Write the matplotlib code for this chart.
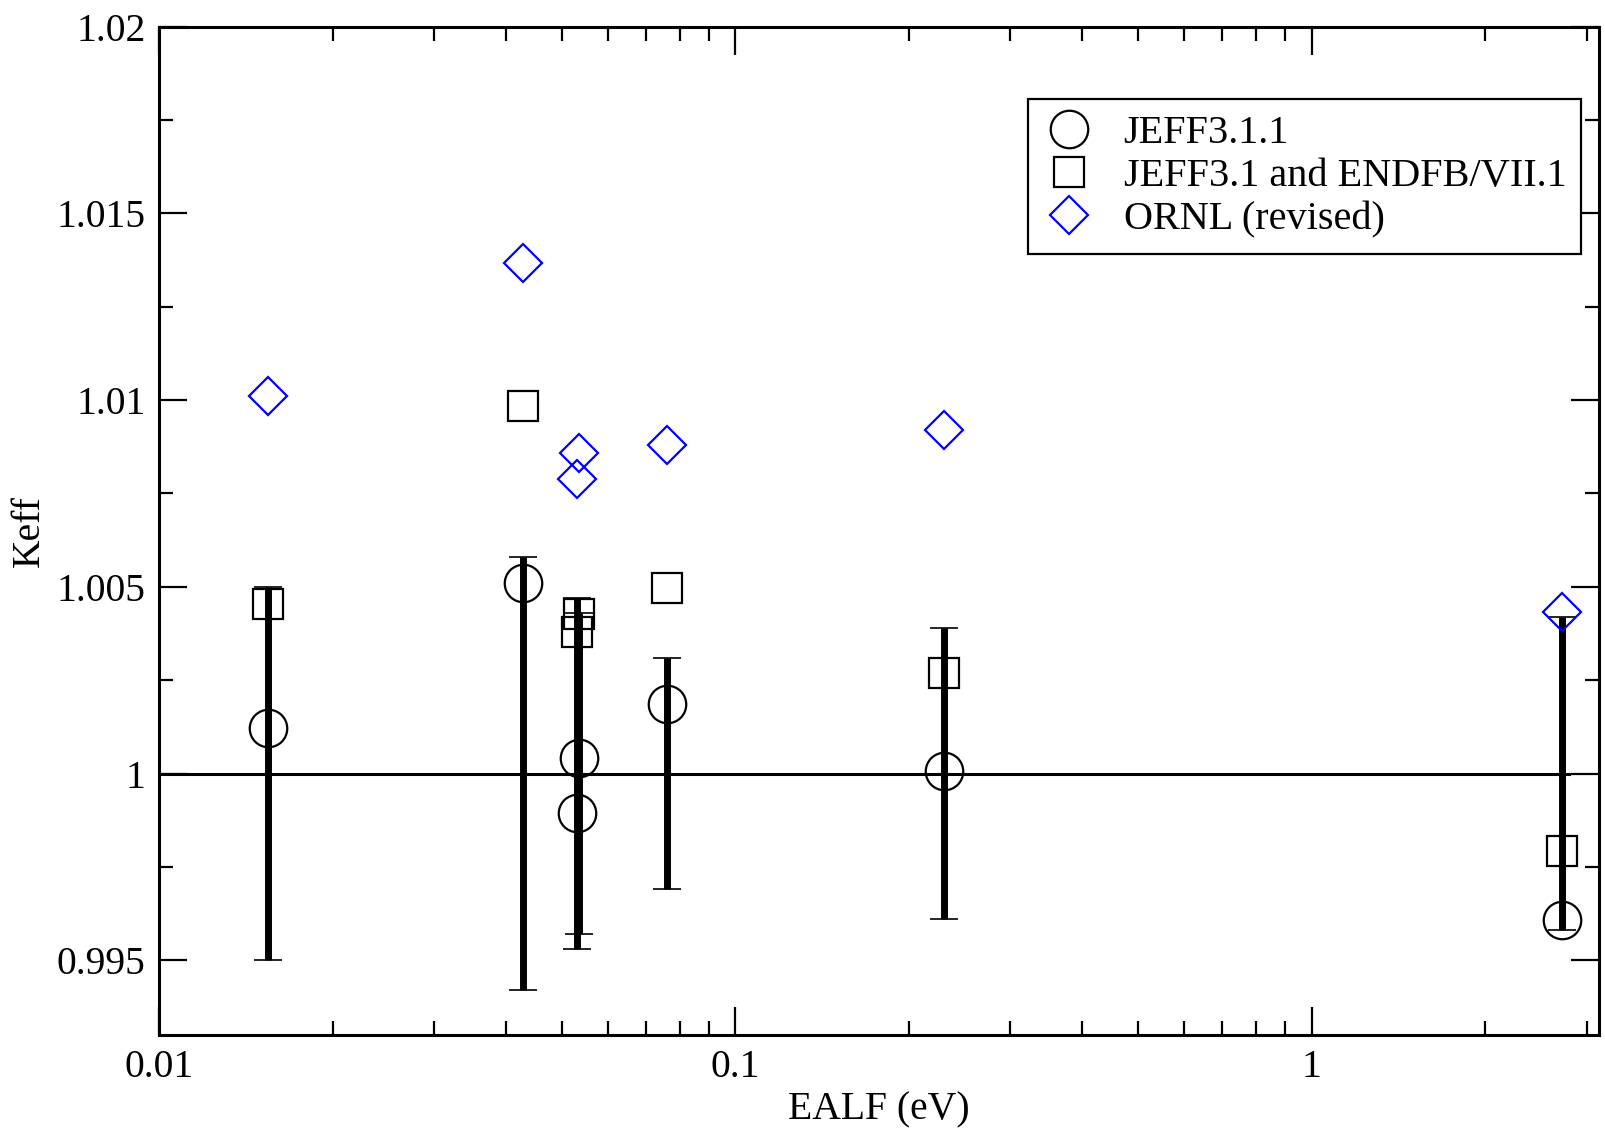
import numpy as np
import matplotlib.pyplot as plt
from matplotlib.ticker import MultipleLocator, LogLocator, FixedLocator, FixedFormatter, NullFormatter

plt.rcParams['font.family'] = ['Liberation Serif', 'DejaVu Serif']

# EALF (eV) of each benchmark case
ealf = [0.01542, 0.04274, 0.05302, 0.05344, 0.07603, 0.2305, 2.722]
# calculated keff
keff_jeff311 = [1.00123, 1.00509, 0.99895, 1.00043, 1.00187, 1.00008, 0.99607]
keff_jeff31 = [1.00454, 1.00984, 1.00379, 1.00428, 1.00496, 1.00270, 0.99793]
keff_ornl = [1.01010, 1.01368, 1.00788, 1.00859, 1.00880, 1.00920, 1.00433]
# benchmark value and its uncertainty
keff_bench = [1.0, 1.0, 1.0, 1.0, 1.0, 1.0, 1.0]
bench_unc = [0.0050, 0.0058, 0.0047, 0.0043, 0.0031, 0.0039, 0.0042]
# reference line
ref_x = [0.01, 2.8]
ref_y = [1.0, 1.0]

fig = plt.figure(figsize=(16.06, 11.34), dpi=100)
ax = fig.add_axes([0.0992, 0.0873, 0.8963, 0.8892])

ax.plot(ref_x, ref_y, color='black', lw=2.2, zorder=1)

ax.errorbar(ealf, keff_bench, yerr=bench_unc, fmt='none', ecolor='black',
            elinewidth=5, capsize=10, capthick=1.2, zorder=3)

ax.plot(ealf, keff_jeff311, 'o', ms=27, mfc='none', mec='black', mew=1.6,
        label='JEFF3.1.1', zorder=2)
ax.plot(ealf, keff_jeff31, 's', ms=22, mfc='none', mec='black', mew=1.6,
        label='JEFF3.1 and ENDFB/VII.1', zorder=2)
ax.plot(ealf, keff_ornl, 'D', ms=19, mfc='none', mec='blue', mew=1.6,
        label='ORNL (revised)', zorder=4)

ax.set_xscale('log')
ax.set_xlim(0.01, 3.15)
ax.set_ylim(0.993, 1.02)

ax.xaxis.set_major_locator(FixedLocator([0.01, 0.1, 1]))
ax.xaxis.set_major_formatter(FixedFormatter(['0.01', '0.1', '1']))
ax.xaxis.set_minor_locator(LogLocator(base=10, subs=np.arange(2, 10)))
ax.xaxis.set_minor_formatter(NullFormatter())

ax.yaxis.set_major_locator(MultipleLocator(0.005))
ax.yaxis.set_minor_locator(MultipleLocator(0.0025))
ax.set_yticks([0.995, 1.0, 1.005, 1.01, 1.015, 1.02])
ax.set_yticklabels(['0.995', '1', '1.005', '1.01', '1.015', '1.02'])

ax.tick_params(which='both', direction='in', top=True, right=True,
               labelsize=28.5, width=1.6)
ax.tick_params(which='major', length=20, pad=10)
ax.tick_params(which='minor', length=10)
for s in ax.spines.values():
    s.set_linewidth(2.2)

ax.set_xlabel('EALF (eV)', fontsize=28.5, labelpad=4)
ax.set_ylabel('Keff', fontsize=28.5, labelpad=6)

leg = ax.legend(loc='upper right', bbox_to_anchor=(0.988, 0.928), borderaxespad=0,
                fontsize=29, frameon=True, fancybox=False, framealpha=1,
                edgecolor='black', handletextpad=0.7, labelspacing=0.15,
                borderpad=0.38, handlelength=1.3)
leg.get_frame().set_linewidth(1.6)

plt.savefig('out.png', dpi=100)
